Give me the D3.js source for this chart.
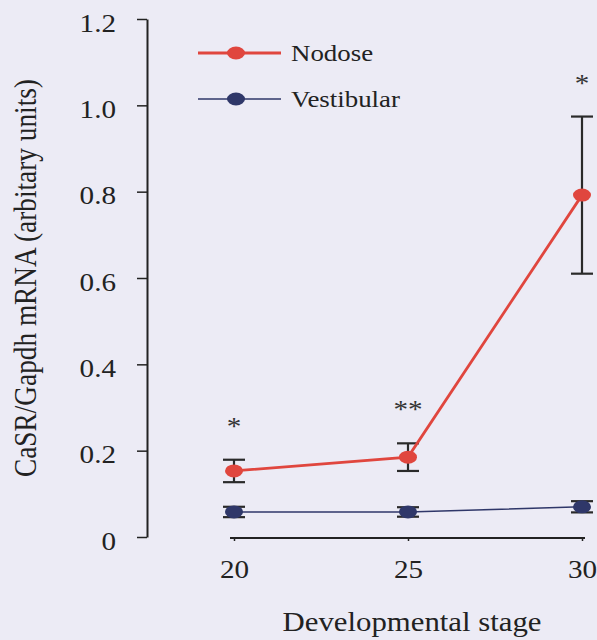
<!DOCTYPE html>
<html>
<head>
<meta charset="utf-8">
<script src="https://cdn.jsdelivr.net/npm/d3@7"></script>
<style>
  html, body { margin: 0; padding: 0; background: #ecebf5; }
  svg { display: block; }
  svg text { font-family: "Liberation Serif", "Times New Roman", serif; fill: #222; }
</style>
</head>
<body>
<div id="chart"></div>
<script>
const stages = [20, 25, 30];
const nodose = [0.153, 0.185, 0.792];
const nodoseErr = [0.026, 0.032, 0.182];
const vestibular = [0.058, 0.058, 0.070];
const vestibularErr = [0.012, 0.011, 0.013];
const marks = ['*', '**', '*'];
const yTicks = [0, 0.2, 0.4, 0.6, 0.8, 1.0, 1.2];

const width = 597;
const height = 640;
// the scanned figure is a bit wider than tall, so text gets a horizontal stretch
const sx = 1.12;

const x = d3.scaleLinear().domain([20, 30]).range([234, 582]);
const y = d3.scaleLinear().domain([0, 1.2]).range([537, 19]);

const svg = d3.select('#chart').append('svg')
  .attr('width', width)
  .attr('height', height);

// y axis
const yAxis = svg.append('g')
  .attr('transform', 'translate(147,0)')
  .call(d3.axisLeft(y).tickValues(yTicks)
    .tickFormat(d => d === 0 ? '0' : d3.format('.1f')(d))
    .tickSize(10).tickSizeOuter(0));
yAxis.select('.domain').attr('stroke', '#222').attr('stroke-width', 2);
yAxis.selectAll('.tick line').attr('stroke', '#222').attr('stroke-width', 1.5);
yAxis.selectAll('.tick text')
  .style('font-size', '26px')
  .attr('x', -31 / sx)
  .attr('dy', '0.47em')
  .attr('transform', `scale(${sx},1)`);

// x axis
const xAxis = svg.append('g')
  .attr('transform', 'translate(0,538)')
  .call(d3.axisBottom(x).tickValues(stages).tickSize(3).tickSizeOuter(0).tickPadding(19));
xAxis.select('.domain').attr('stroke', '#222').attr('stroke-width', 2)
  .attr('d', `M${x(20) - 4},0H${x(30) + 3}`);
xAxis.selectAll('.tick line').attr('stroke', '#222').attr('stroke-width', 1.5);
xAxis.selectAll('.tick text')
  .style('font-size', '26px')
  .attr('transform', `scale(${sx},1)`);

// axis titles
svg.append('text')
  .attr('transform', `translate(412,631) scale(${sx},1)`)
  .attr('text-anchor', 'middle')
  .style('font-size', '27.5px')
  .text('Developmental stage');

svg.append('text')
  .attr('transform', `translate(36,278) scale(${sx},1) rotate(-90)`)
  .attr('text-anchor', 'middle')
  .style('font-size', '27.3px')
  .text('CaSR/Gapdh mRNA (arbitary units)');

const series = [
  { name: 'Nodose', values: nodose, err: nodoseErr, color: '#e0463e', lw: 2.8 },
  { name: 'Vestibular', values: vestibular, err: vestibularErr, color: '#2f3769', lw: 1.6 }
];

const line = d3.line().x(d => x(d[0])).y(d => y(d[1]));

// error bars
series.forEach(s => {
  const g = svg.append('g').attr('stroke', '#2a2a2a').attr('stroke-width', 2.2);
  stages.forEach((st, i) => {
    const top = y(s.values[i] + s.err[i]);
    const bot = y(s.values[i] - s.err[i]);
    g.append('line').attr('x1', x(st)).attr('x2', x(st)).attr('y1', top).attr('y2', bot);
    g.append('line').attr('x1', x(st) - 11).attr('x2', x(st) + 11).attr('y1', top).attr('y2', top);
    g.append('line').attr('x1', x(st) - 11).attr('x2', x(st) + 11).attr('y1', bot).attr('y2', bot);
  });
});

// lines and markers
series.forEach(s => {
  const pts = stages.map((st, i) => [st, s.values[i]]);
  svg.append('path')
    .datum(pts)
    .attr('fill', 'none')
    .attr('stroke', s.color)
    .attr('stroke-width', s.lw)
    .attr('d', line);
  svg.append('g').selectAll('ellipse')
    .data(pts)
    .join('ellipse')
    .attr('cx', d => x(d[0]))
    .attr('cy', d => y(d[1]))
    .attr('rx', 9).attr('ry', 6.5)
    .attr('fill', s.color);
});

// significance marks
svg.append('g').selectAll('text')
  .data(stages)
  .join('text')
  .attr('transform', (d, i) => `translate(${x(d)},${y(nodose[i] + nodoseErr[i]) - 25}) scale(${sx},1)`)
  .attr('text-anchor', 'middle')
  .style('font-size', '26px')
  .style('fill', '#333')
  .text((d, i) => marks[i]);

// legend
const legend = svg.append('g').attr('transform', 'translate(198,53)');
series.forEach((s, i) => {
  const row = legend.append('g').attr('transform', `translate(0,${i * 46})`);
  row.append('line').attr('x1', 0).attr('x2', 83).attr('y1', 0).attr('y2', 0)
    .attr('stroke', s.color).attr('stroke-width', s.lw);
  row.append('ellipse').attr('cx', 38).attr('cy', 0).attr('rx', 9).attr('ry', 6.5)
    .attr('fill', s.color);
  row.append('text')
    .attr('transform', `translate(93,0) scale(${sx},1)`)
    .attr('dy', '0.35em')
    .style('font-size', '24px')
    .text(s.name);
});
</script>
</body>
</html>
